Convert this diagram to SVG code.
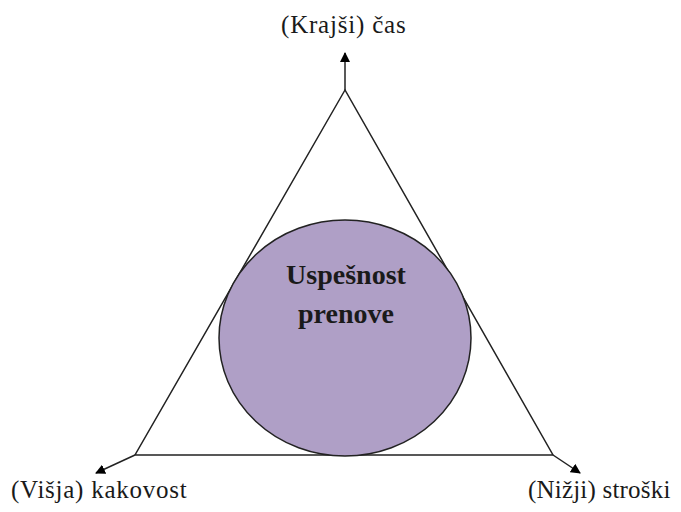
<svg xmlns="http://www.w3.org/2000/svg" width="681" height="512" viewBox="0 0 681 512">
<style>
.lbl{font-family:"Liberation Serif","Times New Roman",serif;font-size:25px;fill:#1a1a1a}
.ctr{font-family:"Liberation Serif","Times New Roman",serif;font-size:28px;font-weight:bold;fill:#1a1a1a;text-anchor:middle}
.ln{stroke:#222;stroke-width:1.5;fill:none}
</style>
<defs>
<marker id="ah" viewBox="0 0 10 10" refX="9" refY="5" markerWidth="10" markerHeight="10" markerUnits="userSpaceOnUse" orient="auto">
<path d="M0,0 L10,5 L0,10 z" fill="#000"/>
</marker>
</defs>
<g id="connectors">
<polygon class="ln" points="345,90 135,455 553,455"/>
<line class="ln" x1="345" y1="90" x2="345" y2="53" marker-end="url(#ah)"/>
<line class="ln" x1="135" y1="455" x2="96" y2="473" marker-end="url(#ah)"/>
<line class="ln" x1="553" y1="455" x2="580" y2="473" marker-end="url(#ah)"/>
</g>
<g id="center">
<ellipse cx="345" cy="338" rx="126" ry="118" fill="#AF9FC6" stroke="#222" stroke-width="1.5"/>
<text class="ctr" x="346" y="284">Uspešnost</text>
<text class="ctr" x="346" y="323">prenove</text>
</g>
<g id="top"><text class="lbl" x="281" y="33" letter-spacing="0.8">(Krajši) čas</text></g>
<g id="left"><text class="lbl" x="11" y="498" letter-spacing="0.75">(Višja) kakovost</text></g>
<g id="right"><text class="lbl" x="528" y="498" letter-spacing="0.2">(Nižji) stroški</text></g>
</svg>
